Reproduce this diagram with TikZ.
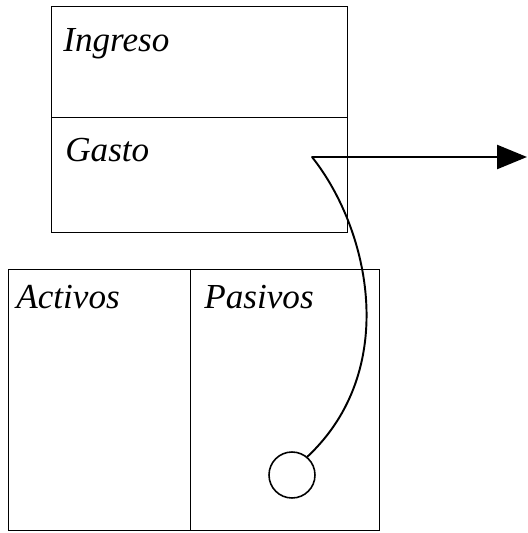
\documentclass[tikz,border=0pt]{standalone}
\usepackage{fontspec}
\setmainfont{Liberation Serif}
\usetikzlibrary{arrows.meta}
\tikzstyle{Cell}=[draw,line width=0.8pt,rectangle,anchor=north west,inner sep=0pt]
\tikzstyle{CellLabel}=[anchor=base west,inner sep=0pt,font=\fontsize{20}{24}\selectfont\itshape]
\tikzstyle{Link}=[line width=1.1pt,cap=round]
\tikzstyle{Flow}=[line width=1.4pt,-{Triangle[length=0.6cm,width=0.48cm]}]

\begin{document}
\begin{tikzpicture}[x=0.02cm,y=-0.02cm]
        \useasboundingbox (0,0) rectangle (527,533);
        % cuenta de resultados
        \node[Cell,minimum width=5.92cm,minimum height=2.22cm](ingreso)at(51,6){};
        \node[Cell,minimum width=5.92cm,minimum height=2.30cm](gasto)at(51,117){};
        % balance
        \node[Cell,minimum width=3.64cm,minimum height=5.22cm](activos)at(8,269){};
        \node[Cell,minimum width=3.78cm,minimum height=5.22cm](pasivos)at(190,269){};
        \node[CellLabel](ingresoT)at(63,52){Ingreso};
        \node[CellLabel](gastoT)at(65,162){Gasto};
        \node[CellLabel](activosT)at(16,308){Activos};
        \node[CellLabel](pasivosT)at(204,308){Pasivos};
        \node[circle,draw,line width=0.9pt,minimum size=0.92cm,inner sep=0pt](hoyo)at(292,475){};
        \coordinate(salida)at(312,157);
        \coordinate(fuera)at(527,157);
        \draw[Flow](salida)--(fuera);
        \draw[Link](salida)..controls(370,230)and(400,370)..(hoyo.50);
    \end{tikzpicture}
\end{document}
